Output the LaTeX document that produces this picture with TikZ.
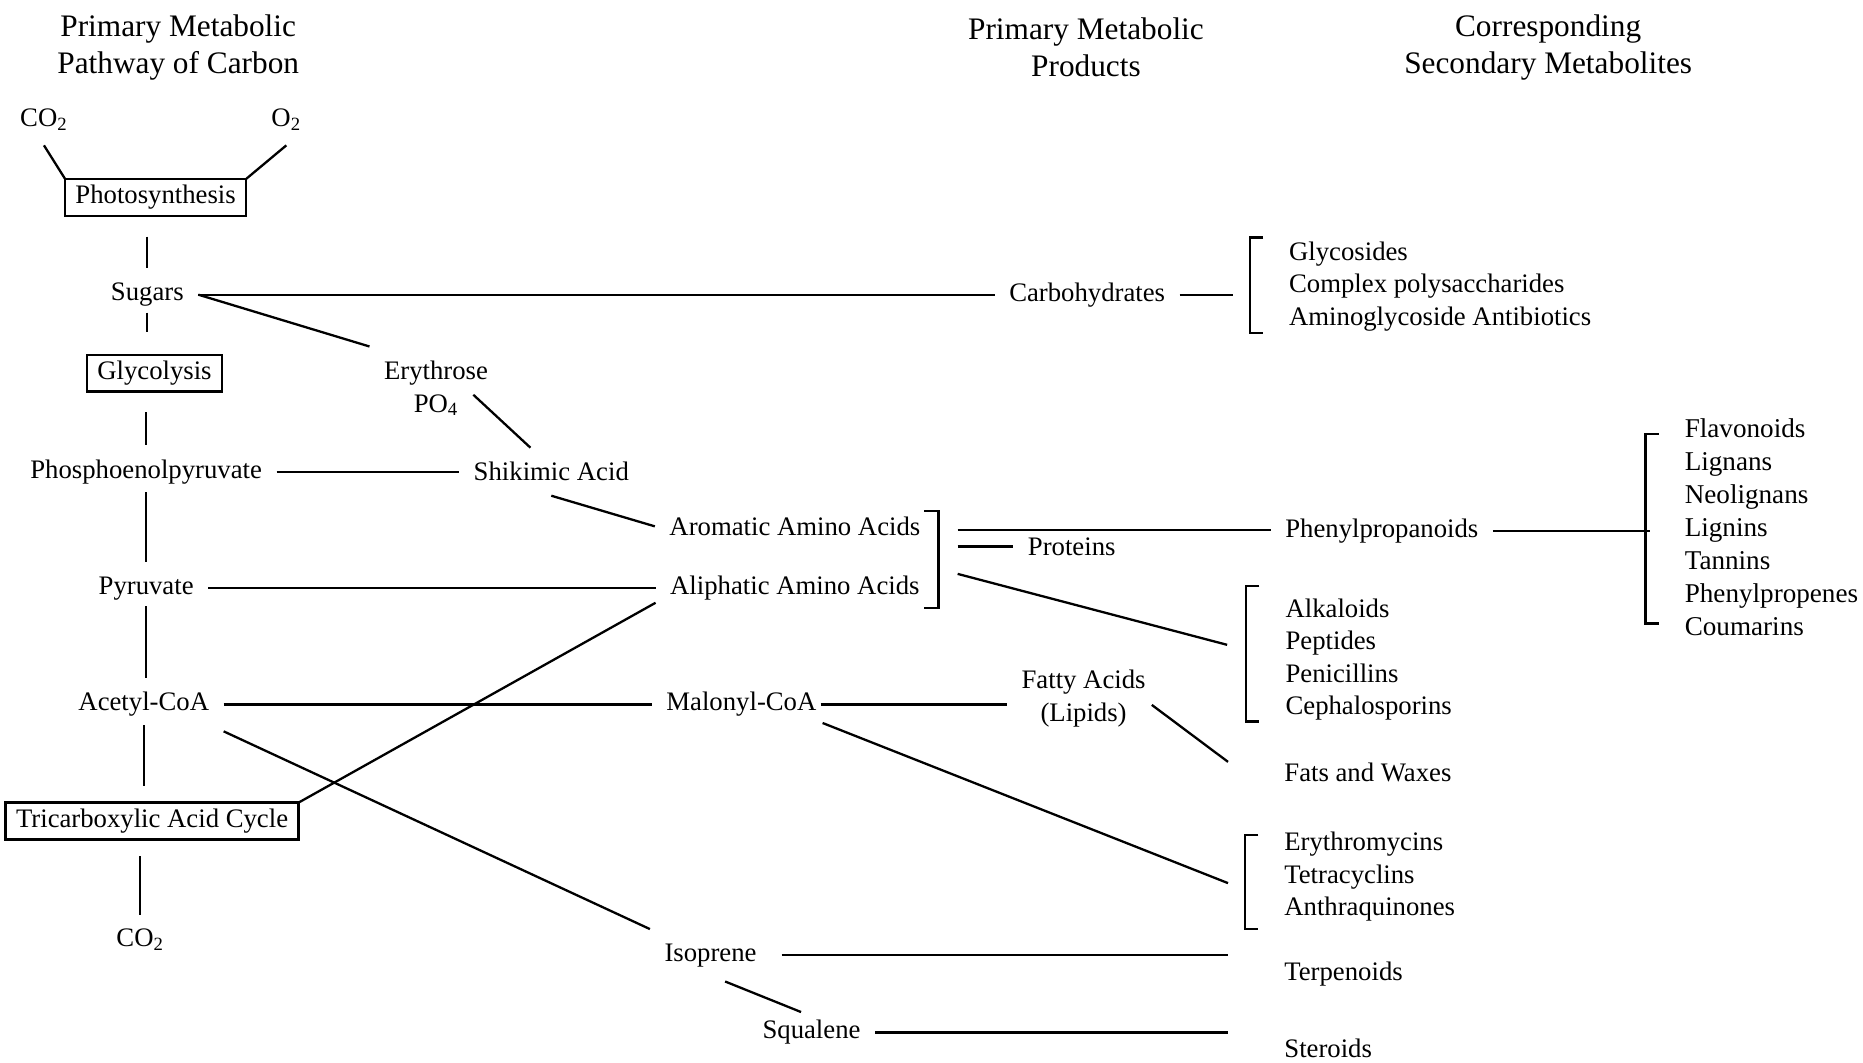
\documentclass[tikz,border=0pt]{standalone}
\usepackage{fontspec}
\setmainfont{Liberation Serif}
\tikzset{
	% text entries, boxed stages and bracketed lists
	entry/.style={inner sep=2pt, outer sep=5pt},
	stage/.style={draw, inner xsep=5pt, inner ysep=3pt, outer sep=0pt},
	sublist/.style={anchor=west, align=left, inner sep=0pt, outer sep=0pt},
	heading/.style={align=center, font=\fontsize{15}{17.6}\selectfont}
}
% opening bracket in front of a list: node, top shift, bottom shift
\newcommand{\listbracket}[3]{%
	\draw ([xshift=-12.5pt,yshift=#2]#1.north west) -- ++(-6.3pt,0) |- ([xshift=-12.5pt,yshift=#3]#1.south west);}

\begin{document}
\begin{tikzpicture}[x=0.02cm, y=-0.02cm, line width=1.1pt, font=\fontsize{12.8}{15.6}\selectfont]
\useasboundingbox (0,0) rectangle (1568,894);

% headings
\node(hpath) at (150,40) [heading] {Primary Metabolic\\Pathway of Carbon};
\node(hprod) at (914,40) [heading] {Primary Metabolic\\Products};
\node(hsec) at (1303,40) [heading] {Corresponding\\Secondary Metabolites};

% primary pathway (left column)
\node(co2in) at (37,101) [entry] {CO\textsubscript{2}};
\node(o2) at (241,101) [entry] {O\textsubscript{2}};
\node(photo) at (131,166) [stage] {Photosynthesis};
\node(sugars) at (124,248) [entry] {Sugars};
\node(glycolysis) at (130,314) [stage] {Glycolysis};
\node(pep) at (123,397) [entry] {Phosphoenolpyruvate};
\node(pyr) at (123,495) [entry] {Pyruvate};
\node(acetyl) at (121,593) [entry] {Acetyl-CoA};
\node(tca) at (128,691) [stage] {Tricarboxylic Acid Cycle};
\node(co2out) at (118,791) [entry] {CO\textsubscript{2}};

% intermediates
\node(eryth) at (367,327) [entry, align=center] {Erythrose\\PO\textsubscript{4}};
\node(shik) at (464,397) [entry] {Shikimic Acid};
\node(arom) at (669,443) [entry] {Aromatic Amino Acids};
\node(aliph) at (669,495) [entry] {Aliphatic Amino Acids};
\node(malonyl) at (624,593) [entry] {Malonyl-CoA};
\node(iso) at (598,804) [entry] {Isoprene};
\node(sq) at (683,869) [entry] {Squalene};

% primary products
\node(carb) at (915,248) [entry] {Carbohydrates};
\node(proteins) at (902,460) [entry] {Proteins};
\node(fatty) at (912,588) [entry, align=center] {Fatty Acids\\(Lipids)};
\node(phen) at (1163,447) [entry] {Phenylpropanoids};

% secondary metabolites
\node(glycosides) at (1085,241) [sublist] {Glycosides\\Complex polysaccharides\\Aminoglycoside Antibiotics};
\node(alka) at (1082,555) [sublist] {Alkaloids\\Peptides\\Penicillins\\Cephalosporins};
\node(fats) at (1081,650) [sublist] {Fats and Waxes};
\node(ery) at (1081,738) [sublist] {Erythromycins\\Tetracyclins\\Anthraquinones};
\node(terp) at (1081,820) [sublist] {Terpenoids};
\node(steroids) at (1081,882) [sublist] {Steroids};
\node(flav) at (1418,444) [sublist, font=\fontsize{13}{15.8}\selectfont] {Flavonoids\\Lignans\\Neolignans\\Lignins\\Tannins\\Phenylpropenes\\Coumarins};

\listbracket{glycosides}{2pt}{-1pt}
\listbracket{alka}{6pt}{-0.5pt}
\listbracket{ery}{-1.5pt}{-3.5pt}
\listbracket{flav}{-7pt}{6pt}

% closing bracket of the amino acids
\coordinate(aaTop) at (778,430);
\coordinate(aaBot) at (778,512);
\draw (aaTop) -- ++(12,0) |- (aaBot);
\coordinate(aaA) at (806,446);
\coordinate(aaB) at (806,460);
\coordinate(aaC) at (806,483);

\path (co2in.south) edge (photo.north west)
      (o2.south) edge (photo.north east)
      (sugars |- photo.south) edge[shorten <=10pt] (sugars)
      (sugars) edge[shorten <=-4pt, shorten >=11pt] (sugars |- glycolysis.north)
      (pep |- glycolysis.south) edge[shorten <=10pt] (pep)
      (pep) edge[shorten <=-3pt] (pep |- pyr.north)
      (pyr) edge[shorten <=-4pt] (pyr |- acetyl.north)
      (acetyl) edge[shorten <=-3pt, shorten >=8pt] (acetyl |- tca.north)
      (co2out |- tca.south) edge[shorten <=8pt] (co2out)
      (sugars) edge (carb)
      (carb) edge[shorten >=27pt] (carb -| glycosides.west)
      (sugars.east) edge (eryth.north west)
      ([xshift=-14pt,yshift=-3pt]eryth.east) edge ([xshift=-10pt]shik.north)
      (pep) edge (shik)
      (shik.south) edge (arom.west)
      (pyr) edge (aliph)
      (tca.north east) edge ([yshift=-7pt]aliph.west)
      (acetyl) edge (malonyl)
      (malonyl) edge[shorten <=-5pt] (malonyl -| fatty.west)
      ([xshift=-4pt,yshift=-3pt]fatty.east) edge ([xshift=-27pt,yshift=5pt]fats.west)
      ([xshift=-4pt,yshift=4pt]malonyl.south east) edge ([xshift=-27pt,yshift=-3pt]ery.west)
      (acetyl.south east) edge (iso.north west)
      (iso) edge[shorten <=5pt, shorten >=27pt] (iso -| terp.west)
      ([xshift=7pt]iso.south) edge ([xshift=-5pt,yshift=-3pt]sq.north)
      (sq) edge[shorten >=27pt] (sq -| steroids.west)
      (aaA) edge (aaA -| phen.west)
      (aaB) edge (proteins)
      (aaC) edge ([xshift=-28pt,yshift=7pt]alka.west)
      (phen) edge[shorten >=16.5pt] (phen -| flav.west);

\end{tikzpicture}
\end{document}
